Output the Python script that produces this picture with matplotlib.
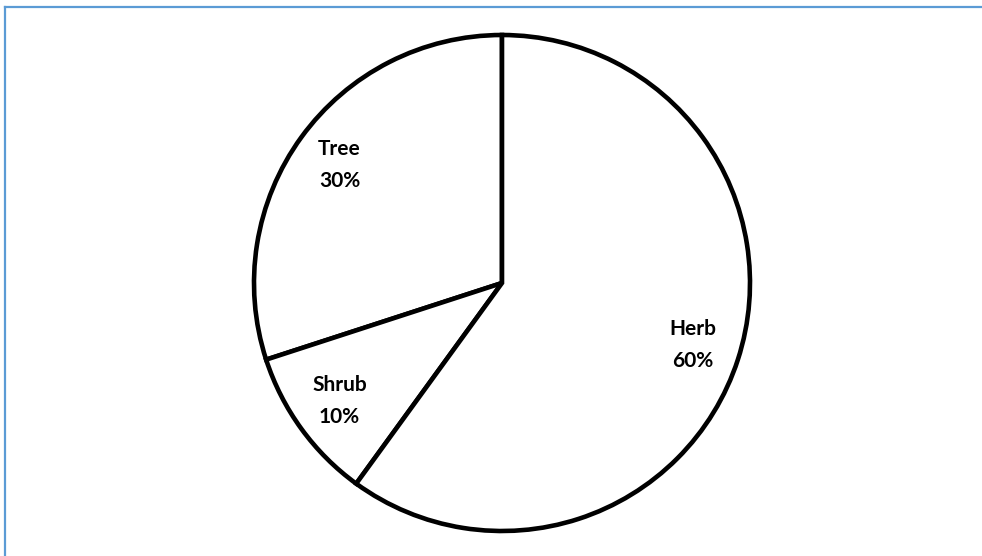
import matplotlib

matplotlib.use("Agg")
import matplotlib.pyplot as plt
from matplotlib.lines import Line2D

categories = ["Tree", "Shrub", "Herb"]
shares = [30, 10, 60]

border_color = "#5B9BD5"


def main() -> None:
    figure = plt.figure(figsize=(9.82, 5.56), dpi=100)
    axis = figure.add_axes([0, 0, 1, 1])

    labels = [f"{name}\n{value}%" for name, value in zip(categories, shares)]

    wedges, texts = axis.pie(
        shares,
        labels=labels,
        startangle=90,
        counterclock=True,
        center=(502, 273),
        radius=248,
        labeldistance=0.81,
        wedgeprops={
            "facecolor": "white",
            "edgecolor": "black",
            "linewidth": 3.3,
            "joinstyle": "miter",
        },
        frame=True,
    )
    axis.set_xlim(0, 982)
    axis.set_ylim(0, 556)
    axis.set_aspect("equal")
    axis.axis("off")

    for text in texts:
        text.set_horizontalalignment("center")
        text.set_verticalalignment("center")
        text.set_fontfamily("Lato")
        text.set_fontweight("bold")
        text.set_fontsize(15)
        text.set_linespacing(1.75)

    # chart area outline, open at right and bottom edges
    figure.add_artist(Line2D([5 / 982, 1.0], [1 - 7 / 556, 1 - 7 / 556],
                             color=border_color, linewidth=1.6,
                             transform=figure.transFigure))
    figure.add_artist(Line2D([5 / 982, 5 / 982], [0.0, 1 - 7 / 556],
                             color=border_color, linewidth=1.6,
                             transform=figure.transFigure))

    figure.savefig("out.png", dpi=100)


if __name__ == "__main__":
    main()
